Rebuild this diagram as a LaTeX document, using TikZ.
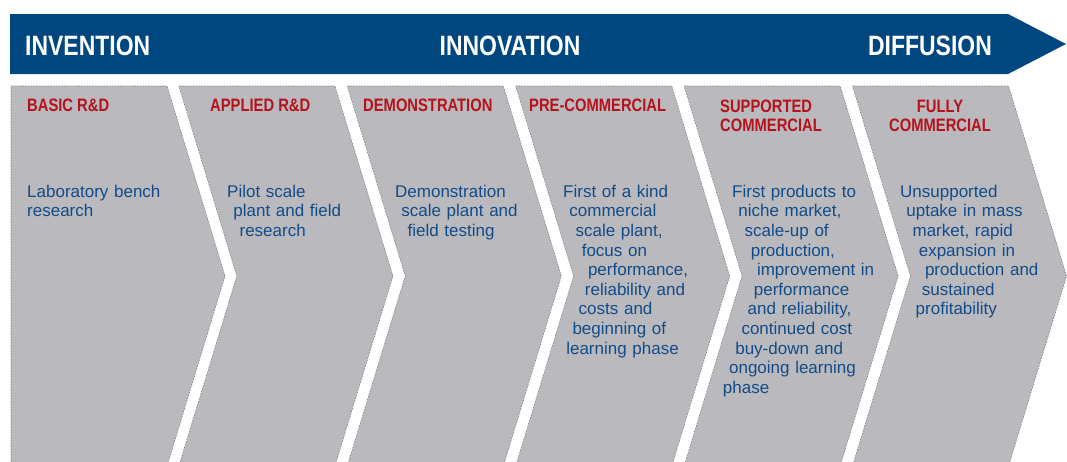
\documentclass[tikz,border=0pt]{standalone}
\usepackage{fontspec}
\setmainfont{Liberation Sans}
\newfontfamily\headfont[FakeStretch=0.82]{Liberation Sans}
\usepackage{xcolor}
\usepackage{tikz}
\definecolor{bannerblue}{HTML}{00467F}
\definecolor{stagegray}{HTML}{BAB9BE}
\definecolor{stageedge}{HTML}{808085}
\definecolor{headred}{HTML}{B5121B}
\definecolor{textblue}{HTML}{124C88}

% lines of the stage texts follow the notch of the chevron
\newcommand{\notched}[1]{\noindent\parshape 11 0pt 200pt 6.2pt 200pt 12.4pt 200pt
  18.6pt 200pt 24.8pt 200pt 21.7pt 200pt 15.5pt 200pt 9.3pt 200pt 3.1pt 200pt
  -3.1pt 200pt -9.3pt 200pt\strut #1\par}

\begin{document}
\begin{tikzpicture}[x=1pt, y=-1pt,
  stage/.style={fill=stagegray, draw=stageedge, line width=0.6pt, dash pattern=on 1.6pt off 1.2pt},
  bannerlabel/.style={text=white, font=\headfont\bfseries\fontsize{28}{30}\selectfont, inner sep=0pt},
  phasehead/.style={text=headred, font=\headfont\bfseries\fontsize{18}{19}\selectfont, inner sep=0pt, anchor=north west},
  phasetext/.style={text=textblue, font=\fontsize{17}{19.6}\selectfont, inner sep=0pt, anchor=north west, text width=200pt}]
  \useasboundingbox (0,0) rectangle (1067,461);
  \clip (0,0) rectangle (1067,461);

  \fill[bannerblue] (10,14) -- (1008,14) -- (1066,44) -- (1008,74) -- (10,74) -- cycle;
  \node[bannerlabel, anchor=base west] (invention) at (25,55) {INVENTION};
  \node[bannerlabel, anchor=base] (innovation) at (510,55) {INNOVATION};
  \node[bannerlabel, anchor=base] (diffusion) at (930,55) {DIFFUSION};

  \draw[stage] (11,86) -- (167,86) -- (225,276) -- (167,466) -- (11,466) -- cycle;
  \foreach \i in {1,...,5} {
    \pgfmathsetmacro{\lx}{10.5+168.4*\i}
    \draw[stage] (\lx,86) -- ++(156,0) -- ++(58,190) -- ++(-58,190) -- ++(-156,0) -- ++(58,-190) -- cycle;
  }

  \node[phasehead] (basic) at (27,97.7) {\strut BASIC R\&D};
  \node[phasehead] (applied) at (210,97.7) {\strut APPLIED R\&D};
  \node[phasehead] (demo) at (363,97.7) {\strut DEMONSTRATION};
  \node[phasehead] (precomm) at (529,97.7) {\strut PRE-COMMERCIAL};
  \node[phasehead, align=left] (supported) at (720,98.7) {\strut SUPPORTED\\COMMERCIAL};
  \node[phasehead, anchor=north, align=center] (fully) at (940,98.7) {\strut FULLY\\COMMERCIAL};

  \node[phasetext] (basictext) at (27,183.3) {\noindent\strut Laboratory bench\newline research};
  \node[phasetext] (appliedtext) at (227,183.3) {\notched{Pilot scale\newline plant and field\newline research}};
  \node[phasetext] (demotext) at (395,183.3) {\notched{Demonstration\newline scale plant and\newline field testing}};
  \node[phasetext] (precommtext) at (563,183.3) {\notched{First of a kind\newline commercial\newline scale plant,\newline
    focus on\newline performance,\newline reliability and\newline costs and\newline beginning of\newline learning phase}};
  \node[phasetext] (supportedtext) at (732,183.3) {\notched{First products to\newline niche market,\newline scale-up of\newline
    production,\newline improvement in\newline performance\newline and reliability,\newline continued cost\newline
    buy-down and\newline ongoing learning\newline phase}};
  \node[phasetext] (fullytext) at (900,183.3) {\notched{Unsupported\newline uptake in mass\newline market, rapid\newline
    expansion in\newline production and\newline sustained\newline profitability}};
\end{tikzpicture}
\end{document}
